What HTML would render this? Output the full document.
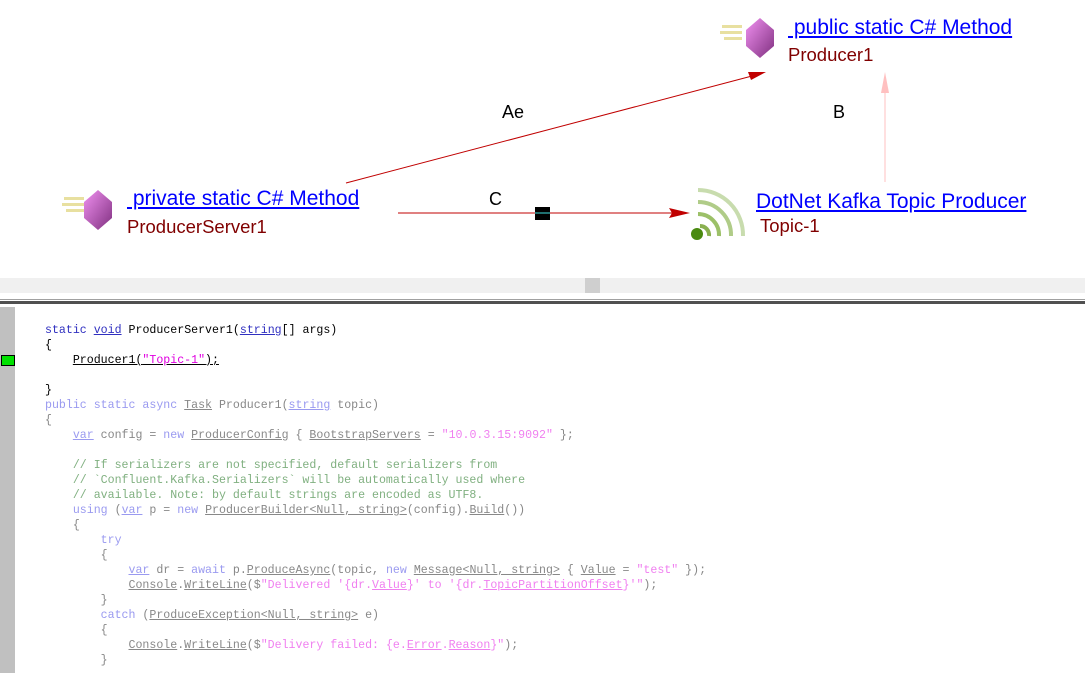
<!DOCTYPE html>
<html><head><meta charset="utf-8"><style>
body{margin:0;width:1085px;height:673px;overflow:hidden;background:#fff;position:relative;font-family:"Liberation Sans",sans-serif}
.t{position:absolute;white-space:nowrap}
.lnk{color:#0000ff;text-decoration:underline;font-size:21px}
.sub{color:#800000;font-size:18.5px}
#code{position:absolute;left:45px;top:323px;font-family:"Liberation Mono",monospace;font-size:11.6px;line-height:15px;white-space:pre;color:#888}
.k{color:#3030c0}.kf{color:#9a9af0}.s{color:#e000e0}.sf{color:#f080f0}.c{color:#80b080}.u{text-decoration:underline}.d{color:#000}
</style></head><body>
<svg width="1085" height="300" style="position:absolute;left:0;top:0">
<defs>
<linearGradient id="g" x1="0" y1="0" x2="1" y2="1"><stop offset="0" stop-color="#f090f0"/><stop offset="1" stop-color="#803080"/></linearGradient>
</defs>
<g transform="translate(720,18)"><rect x="2" y="7" width="20" height="3" fill="#e8e0a0"/><rect x="0" y="13" width="22" height="3" fill="#e8e0a0"/><rect x="4" y="19" width="18" height="3" fill="#e8e0a0"/><polygon points="40,0 54,12 54,28 40,40 26,28 26,12" fill="url(#g)"/></g>
<g transform="translate(62,190)"><rect x="2" y="7" width="20" height="3" fill="#e8e0a0"/><rect x="0" y="13" width="22" height="3" fill="#e8e0a0"/><rect x="4" y="19" width="18" height="3" fill="#e8e0a0"/><polygon points="36,0 50,12 50,28 36,40 22,28 22,12" fill="url(#g)"/></g>
<g fill="none" stroke="#8ab050" stroke-width="4">
<path d="M700 226 a9 9 0 0 1 9 10" /><path d="M698 214 a21 21 0 0 1 21 22" stroke="#9cc068"/><path d="M698 202 a33 33 0 0 1 33 34" stroke="#b0cc88"/><path d="M698 190 a45 45 0 0 1 45 46" stroke="#c8dcae"/></g>
<circle cx="697" cy="234" r="6" fill="#4a8a10"/>
<line x1="346" y1="183" x2="752" y2="76" stroke="#c00000" stroke-width="1"/>
<polygon points="766,72 748,72 751,80" fill="#c00000"/>
<line x1="885" y1="182" x2="885" y2="90" stroke="#ffc0c0" stroke-width="1"/>
<polygon points="885,72 881,93 889,93" fill="#ffc0c0"/>
<line x1="398" y1="213" x2="672" y2="213" stroke="#c00000" stroke-width="1"/>
<polygon points="690,213 669,208 672,213 669,218" fill="#c00000"/>
<rect x="535" y="207" width="15" height="13" fill="#000"/><line x1="535" y1="213" x2="550" y2="213" stroke="#40e0e0"/>
<text x="502" y="118" font-size="18" font-family="Liberation Sans">Ae</text>
<text x="833" y="118" font-size="18" font-family="Liberation Sans">B</text>
<text x="489" y="205" font-size="18" font-family="Liberation Sans">C</text>
</svg>
<div class="t lnk" style="left:788px;top:16px">&nbsp;public static C# Method</div>
<div class="t sub" style="left:788px;top:44px">Producer1</div>
<div class="t lnk" style="left:127px;top:187px">&nbsp;private static C# Method</div>
<div class="t sub" style="left:127px;top:216px">ProducerServer1</div>
<div class="t lnk" style="left:756px;top:190px">DotNet Kafka Topic Producer</div>
<div class="t sub" style="left:760px;top:215px">Topic-1</div>
<div style="position:absolute;left:0;top:278px;width:1085px;height:15px;background:#f0f0f0"></div>
<div style="position:absolute;left:585px;top:278px;width:15px;height:15px;background:#cfcfcf"></div>
<div style="position:absolute;left:0;top:299px;width:1085px;height:1px;background:#a0a0a0"></div>
<div style="position:absolute;left:0;top:301px;width:1085px;height:3px;background:#505050"></div>
<div style="position:absolute;left:0;top:307px;width:15px;height:366px;background:#c0c0c0"></div>
<div style="position:absolute;left:1px;top:355px;width:14px;height:11px;background:#00e000;border:1px solid #000;box-sizing:border-box"></div>
<div id="code"><span class="k">static</span> <span class="k u">void</span> <span class="d">ProducerServer1(</span><span class="k u">string</span><span class="d">[] args)</span>
<span class="d">{</span>
    <span class="d u">Producer1(<span class="s">"Topic-1"</span>);</span>

<span class="d">}</span>
<span class="kf">public static async</span> <span class="u">Task</span> Producer1(<span class="kf u">string</span> topic)
{
    <span class="kf u">var</span> config = <span class="kf">new</span> <span class="u">ProducerConfig</span> { <span class="u">BootstrapServers</span> = <span class="sf">"10.0.3.15:9092"</span> };

    <span class="c">// If serializers are not specified, default serializers from</span>
    <span class="c">// `Confluent.Kafka.Serializers` will be automatically used where</span>
    <span class="c">// available. Note: by default strings are encoded as UTF8.</span>
    <span class="kf">using</span> (<span class="kf u">var</span> p = <span class="kf">new</span> <span class="u">ProducerBuilder&lt;Null, string&gt;</span>(config).<span class="u">Build</span>())
    {
        <span class="kf">try</span>
        {
            <span class="kf u">var</span> dr = <span class="kf">await</span> p.<span class="u">ProduceAsync</span>(topic, <span class="kf">new</span> <span class="u">Message&lt;Null, string&gt;</span> { <span class="u">Value</span> = <span class="sf">"test"</span> });
            <span class="u">Console</span>.<span class="u">WriteLine</span>($<span class="sf">"Delivered '{dr.<span class="u">Value</span>}' to '{dr.<span class="u">TopicPartitionOffset</span>}'"</span>);
        }
        <span class="kf">catch</span> (<span class="u">ProduceException&lt;Null, string&gt;</span> e)
        {
            <span class="u">Console</span>.<span class="u">WriteLine</span>($<span class="sf">"Delivery failed: {e.<span class="u">Error</span>.<span class="u">Reason</span>}"</span>);
        }</div>
</body></html>
